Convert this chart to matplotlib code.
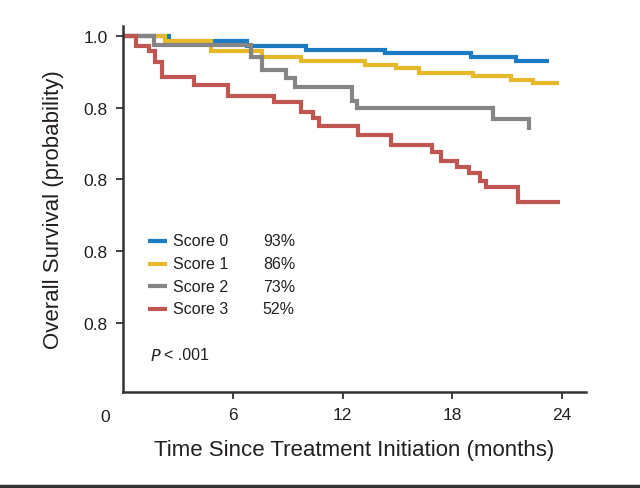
import matplotlib
matplotlib.use("Agg")
import matplotlib.pyplot as plt
from matplotlib import font_manager
from matplotlib.lines import Line2D

# Kaplan-Meier steps (months, survival probability)
t_score0 = [0, 2.5, 6.8, 10.0, 14.3, 19.0, 21.5]
s_score0 = [1.0, 0.987, 0.974, 0.962, 0.954, 0.942, 0.931]
end_score0 = 23.3

t_score1 = [0, 2.3, 4.8, 7.6, 9.7, 13.2, 14.9, 16.2, 19.1, 21.2, 22.4]
s_score1 = [1.0, 0.987, 0.958, 0.942, 0.932, 0.921, 0.912, 0.898, 0.889, 0.879, 0.869]
end_score1 = 23.8

t_score2 = [0, 1.7, 7.0, 7.6, 8.9, 9.4, 12.5, 12.8, 20.2, 22.2]
s_score2 = [1.0, 0.977, 0.942, 0.907, 0.883, 0.858, 0.820, 0.799, 0.769, 0.738]
end_score2 = 22.2

t_score3 = [0, 0.73, 1.4, 1.73, 2.13, 3.9, 5.73, 8.27, 9.72, 10.36, 10.7,
            12.85, 14.67, 16.9, 17.4, 18.26, 18.93, 19.53, 19.84, 21.6]
s_score3 = [1.0, 0.974, 0.958, 0.928, 0.886, 0.865, 0.832, 0.816, 0.790, 0.771, 0.749,
            0.723, 0.695, 0.676, 0.653, 0.634, 0.617, 0.597, 0.580, 0.536]
end_score3 = 23.9

labels = ["Score 0", "Score 1", "Score 2", "Score 3"]
pcts = ["93%", "86%", "73%", "52%"]
x_ticks = [6, 12, 18, 24]
y_ticks = [1.0, 0.8, 0.6, 0.4, 0.2]
y_ticklabels = ["1.0", "0.8", "0.8", "0.8", "0.8"]  # as printed in the original

colors = ["#1b7cc3", "#e5b929", "#858585", "#bf5651"]
text_col = "#231f20"

# narrow font if present
names = {f.name for f in font_manager.fontManager.ttflist}
fam = ["Liberation Sans Narrow"] if "Liberation Sans Narrow" in names else ["Liberation Sans"]
plt.rcParams["font.family"] = fam + ["DejaVu Sans"]

fig = plt.figure(figsize=(6.4, 4.89), dpi=100)
ax = fig.add_axes([123 / 640, 1 - 393 / 489, 463 / 640, 366 / 489])

series = [(t_score0, s_score0, end_score0), (t_score1, s_score1, end_score1),
          (t_score2, s_score2, end_score2), (t_score3, s_score3, end_score3)]
for (t, s, end), c in zip(series, colors):
    ax.step(t + [end], s + [s[-1]], where="post", color=c, lw=3.0,
            solid_joinstyle="miter", solid_capstyle="butt")

ax.set_xlim(0, 25.3)
ax.set_ylim(0.006, 1.029)

ax.set_xticks(x_ticks)
ax.set_xticklabels([str(v) for v in x_ticks])
ax.set_yticks(y_ticks)
ax.set_yticklabels(y_ticklabels)
ax.tick_params(axis="both", direction="out", length=5, width=1.2, colors=text_col,
               labelsize=12.5, pad=6)
ax.text(-1.0, -0.068, "0", transform=ax.get_xaxis_transform(), ha="center", va="center",
        fontsize=12.5, color=text_col)

for side in ["top", "right"]:
    ax.spines[side].set_visible(False)
for side in ["left", "bottom"]:
    ax.spines[side].set_linewidth(1.8)
    ax.spines[side].set_color("#333333")

ax.set_xlabel("Time Since Treatment Initiation (months)", fontsize=16, color=text_col, labelpad=12)
ax.set_ylabel("Overall Survival (probability)", fontsize=16, color=text_col, labelpad=14)

# legend drawn by hand to keep the percentage column
rows = [0.413, 0.350, 0.289, 0.227]
for lab, p, c, yy in zip(labels, pcts, colors, rows):
    ax.plot([0.054, 0.095], [yy, yy], transform=ax.transAxes, color=c, lw=3.0,
            solid_capstyle="butt")
    ax.text(0.108, yy, lab, transform=ax.transAxes, va="center", ha="left",
            fontsize=11.5, color=text_col)
    ax.text(0.302, yy, p, transform=ax.transAxes, va="center", ha="left",
            fontsize=11.5, color=text_col)

ax.text(0.058, 0.102, "$P$", transform=ax.transAxes, va="center", ha="left",
        fontsize=11.5, color=text_col, style="italic")
ax.text(0.088, 0.102, "< .001", transform=ax.transAxes, va="center", ha="left",
        fontsize=11.5, color=text_col)

fig.add_artist(Line2D([0, 1], [0.004, 0.004], transform=fig.transFigure,
                      color="#333333", lw=2.5))

fig.savefig("out.png", dpi=100)
